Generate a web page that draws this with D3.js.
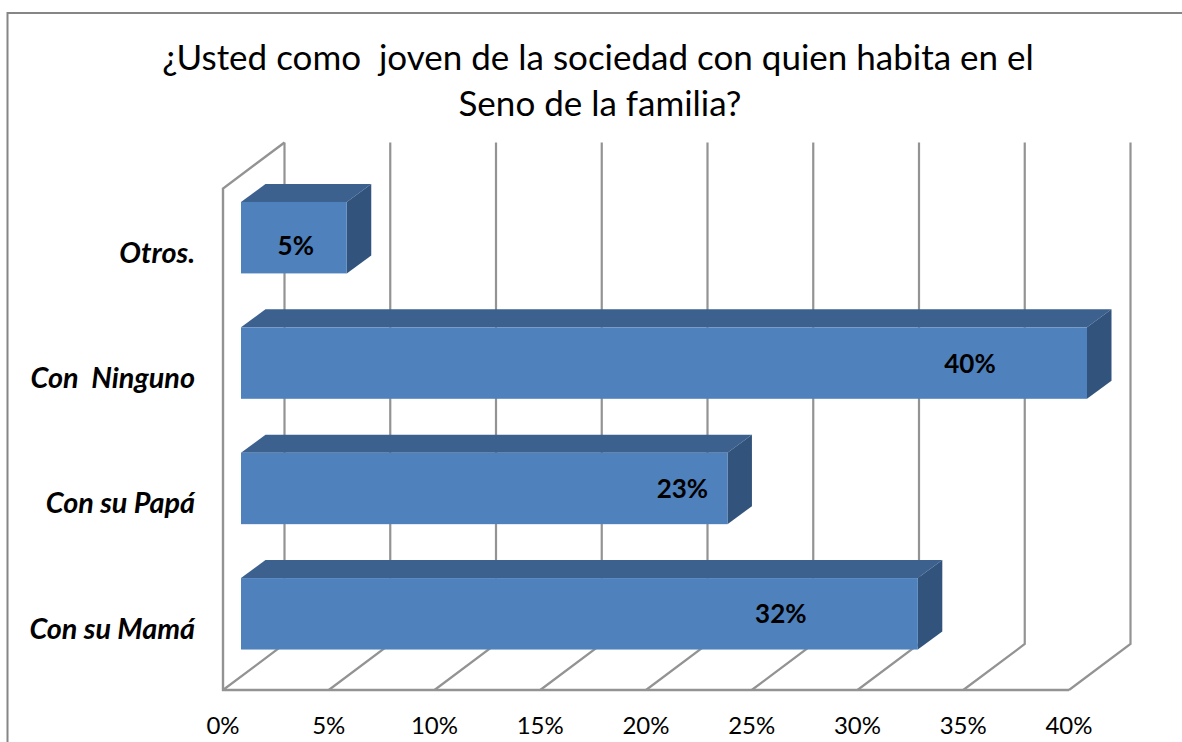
<!DOCTYPE html>
<html>
<head>
<meta charset="utf-8">
<script src="https://cdn.jsdelivr.net/npm/d3@7"></script>
<style>
  html, body { margin: 0; padding: 0; background: #fff; }
  svg { display: block; }
  text { font-family: Lato, "Open Sans", sans-serif; fill: #000; white-space: pre; }
</style>
</head>
<body>
<svg id="chart"></svg>
<script>
const categories = ["Otros.", "Con  Ninguno", "Con su Papá", "Con su Mamá"];
const values = [5, 40, 23, 32];
const ticks = [0, 5, 10, 15, 20, 25, 30, 35, 40];
const titleLines = ["¿Usted como  joven de la sociedad con quien habita en el", "Seno de la familia?"];

const width = 1182, height = 742;

// plot box, front plane of the 3d floor
const x0 = 223, x1 = 1069, yTop = 188.5, yBottom = 690;
// depth of the whole box and how far the bars sit / reach in it
const depthX = 61.5, depthY = -46;
const barOffX = 18, barOffY = -13.5;
const barDepthX = 24.5, barDepthY = -18;

const svg = d3.select("#chart").attr("width", width).attr("height", height);

const x = d3.scaleLinear().domain([0, 40]).range([x0, x1]);
const y = d3.scaleBand().domain(categories)
  .range([yTop + barOffY, yBottom + barOffY])
  .paddingInner(0.43).paddingOuter(0.215);

// chart frame, right side is cut off in the picture
svg.append("path")
  .attr("d", `M7.5,${height + 2}V13H${width + 2}`)
  .attr("fill", "none").attr("stroke", "#868686").attr("stroke-width", 2);

const title = svg.append("g").attr("class", "title");
title.selectAll("text").data(titleLines).join("text")
  .attr("x", (d, i) => i === 0 ? 598 : 600).attr("y", (d, i) => 70 + i * 46)
  .attr("text-anchor", "middle").attr("font-size", 35)
  .text(d => d);

// walls and gridlines
const grid = svg.append("g").attr("fill", "none").attr("stroke", "#939393").attr("stroke-width", 2.4);
grid.selectAll("path.tick").data(ticks).join("path")
  .attr("class", "tick")
  .attr("stroke-width", 2.2)
  .attr("d", d => `M${x(d)},${yBottom}L${x(d) + depthX},${yBottom + depthY}V${yTop + depthY}`);
grid.append("path")
  .attr("d", `M${x(0) + depthX},${yTop + depthY}L${x(0)},${yTop}V${yBottom}H${x(40)}`);

// bars
const bars = svg.append("g").selectAll("g").data(categories).join("g");
const bx = () => x(0) + barOffX;
const bw = i => x(values[i]) - x(0);

bars.append("path") // top face
  .attr("fill", "#3c618f")
  .attr("d", (d, i) => `M${bx()},${y(d)}l${barDepthX},${barDepthY}h${bw(i)}l${-barDepthX},${-barDepthY}z`);
bars.append("path") // side face
  .attr("fill", "#32547c")
  .attr("d", (d, i) => `M${bx() + bw(i)},${y(d)}l${barDepthX},${barDepthY}v${y.bandwidth()}l${-barDepthX},${-barDepthY}z`);
bars.append("rect") // front face
  .attr("fill", "#4f81bd")
  .attr("x", bx()).attr("y", d => y(d))
  .attr("width", (d, i) => bw(i)).attr("height", y.bandwidth());

// value labels
bars.append("text")
  .attr("x", (d, i) => bx() + bw(i) - (values[i] === 5 ? 51 : i === 1 ? 117 : i === 2 ? 45 : 137))
  .attr("y", (d, i) => y(d) + y.bandwidth() / 2 + (i === 0 ? 17 : 9.5))
  .attr("text-anchor", "middle").attr("font-size", 26).attr("font-weight", 700)
  .text((d, i) => values[i] + "%");

// category labels
svg.append("g").selectAll("text").data(categories).join("text")
  .attr("x", 195).attr("y", d => y(d) + y.bandwidth() / 2 + 25)
  .attr("text-anchor", "end").attr("font-size", 28.8)
  .attr("font-weight", 700).attr("font-style", "italic")
  .text(d => d);

// x axis tick labels
svg.append("g").selectAll("text").data(ticks).join("text")
  .attr("x", d => x(d)).attr("y", 734)
  .attr("text-anchor", "middle").attr("font-size", 24)
  .text(d => d + "%");
</script>
</body>
</html>
